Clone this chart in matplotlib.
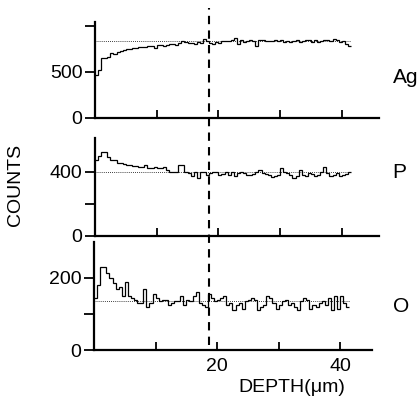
import numpy as np
import matplotlib.pyplot as plt
import matplotlib.transforms as mtransforms
from matplotlib.lines import Line2D

plt.rcParams['font.family'] = ['Liberation Sans', 'DejaVu Sans']

# depth bins (um)
bin_width = 0.5
depth_start = 0.0

ag_counts = [470, 520, 650, 650, 660, 700, 690, 720, 730, 740,
             750, 750, 755, 760, 765, 770, 770, 780, 775, 760,
             790, 790, 780, 795, 800, 805, 790, 810, 830, 825,
             815, 810, 800, 820, 810, 860, 830, 810, 800, 820,
             815, 830, 835, 830, 840, 870, 800, 850, 820, 830,
             850, 830, 780, 850, 840, 830, 830, 835, 840, 830,
             850, 820, 830, 825, 830, 845, 820, 830, 850, 850,
             825, 840, 820, 835, 850, 840, 830, 860, 845, 820,
             830, 800, 780]
p_counts = [470, 500, 525, 525, 490, 470, 470, 455, 455, 445,
            440, 440, 435, 435, 430, 430, 440, 425, 420, 430,
            420, 425, 430, 410, 400, 395, 395, 440, 440, 400,
            390, 370, 400, 360, 395, 400, 380, 390, 395, 400,
            380, 385, 395, 380, 400, 375, 390, 395, 390, 380,
            380, 385, 400, 410, 390, 385, 380, 365, 375, 380,
            420, 400, 390, 380, 360, 370, 410, 380, 375, 390,
            385, 375, 380, 395, 430, 390, 375, 380, 390, 370,
            380, 385, 395]
o_counts = [145, 180, 230, 230, 215, 200, 185, 170, 175, 150,
            190, 150, 145, 140, 130, 130, 170, 120, 130, 155,
            145, 135, 140, 140, 125, 130, 135, 135, 150, 125,
            140, 135, 150, 160, 130, 125, 120, 155, 145, 135,
            140, 145, 150, 125, 130, 110, 125, 130, 115, 135,
            140, 145, 140, 110, 120, 125, 150, 145, 130, 115,
            125, 135, 140, 125, 130, 120, 110, 135, 145, 140,
            115, 125, 120, 130, 135, 125, 145, 110, 150, 115,
            150, 130, 120]

# bulk reference levels (dotted lines)
ag_bulk = 830
p_bulk = 395
o_bulk = 135

interface_depth = 18.5

panels = [
    ('Ag', ag_counts, ag_bulk, (0, 1040), [0, 500, 1000], ['0', '500', '']),
    ('P', p_counts, p_bulk, (0, 610), [0, 200, 400], ['0', '', '400']),
    ('O', o_counts, o_bulk, (0, 300), [0, 100, 200], ['0', '', '200']),
]

fig = plt.figure(figsize=(4.2, 4.08), dpi=100)
rects = [[0.226, 0.711, 0.676, 0.235],
         [0.226, 0.4216, 0.676, 0.2404],
         [0.224, 0.142, 0.662, 0.265]]
xlims = [(0, 46), (0, 46), (0, 45.2)]
label_y = [0.809, 0.576, 0.248]

axes = []
for i, (name, counts, bulk, ylim, yt, ytl) in enumerate(panels):
    ax = fig.add_axes(rects[i])
    edges = depth_start + bin_width * np.arange(len(counts) + 1)
    ax.stairs(counts, edges, baseline=None, color='black', linewidth=0.9)
    ax.plot([edges[0], edges[-1]], [bulk, bulk], linestyle=(0, (1, 1.5)),
            color='black', linewidth=0.6)
    ax.set_xlim(*xlims[i])
    ax.set_ylim(*ylim)
    ax.set_yticks(yt)
    ax.set_yticklabels(ytl)
    ax.set_xticks([10, 20, 30, 40])
    if i == 2:
        ax.set_xticklabels(['', '20', '', '40'])
    else:
        ax.set_xticklabels([])
    for s in ['top', 'right']:
        ax.spines[s].set_visible(False)
    for s in ['left', 'bottom']:
        ax.spines[s].set_linewidth(1.6)
    ax.tick_params(axis='x', direction='in', length=6, width=1.3, labelsize=14, pad=6)
    ax.tick_params(axis='y', direction='out', length=7, width=1.3, labelsize=14, pad=2)
    fig.text(0.935, label_y[i], name, fontsize=15, ha='left', va='center')
    axes.append(ax)

# dashed line marking interface, spanning all panels
blend = mtransforms.blended_transform_factory(axes[0].transData, fig.transFigure)
fig.add_artist(Line2D([interface_depth, interface_depth], [0.155, 0.98],
                      transform=blend, linestyle=(0, (4, 3)), color='black',
                      linewidth=1.5))

fig.text(0.038, 0.547, 'COUNTS', rotation=90, fontsize=14, ha='center', va='center')
fig.text(0.567, 0.05, 'DEPTH(\u03bcm)', fontsize=14, ha='left', va='center')

fig.savefig('out.png', dpi=100)
